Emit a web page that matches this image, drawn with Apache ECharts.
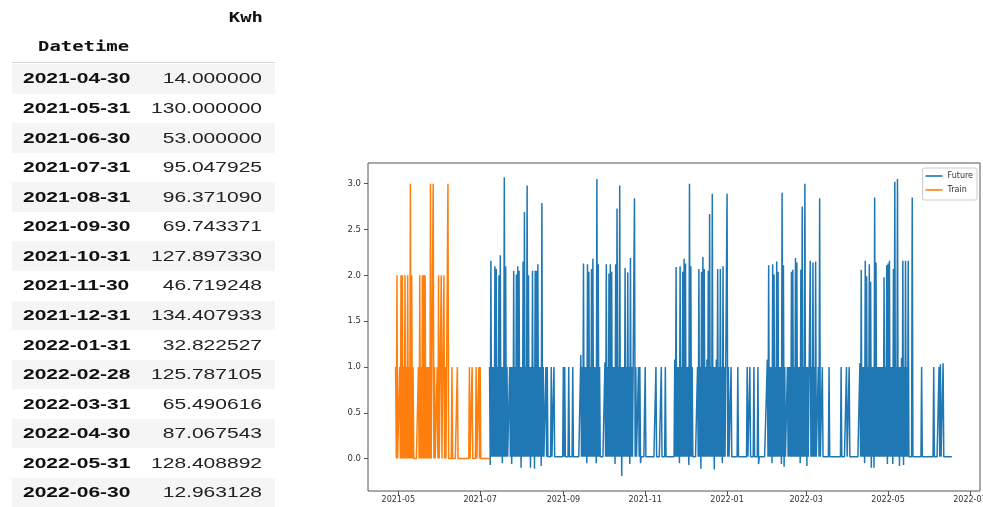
<!DOCTYPE html>
<html>
<head>
<meta charset="utf-8">
<script src="https://cdn.jsdelivr.net/npm/echarts@6/dist/echarts.min.js"></script>
<style>
  html, body { margin: 0; padding: 0; background: #fff; }
  #wrap { position: relative; width: 983px; height: 507px; overflow: hidden; background: #fff; }
  #chart { position: absolute; left: 0; top: 0; width: 983px; height: 507px; }
  #table { position: absolute; left: 0; top: 0; width: 290px; height: 507px; z-index: 2; }
  .row { position: absolute; left: 12px; width: 263px; }
  .shade { background: #f5f5f5; }
  .txt { position: absolute; white-space: nowrap; color: #111; }
  .date { font: bold 15px "Liberation Sans", Arial, sans-serif; transform: scaleX(1.4); transform-origin: left center; }
  .val { font: 15px "Liberation Sans", Arial, sans-serif; text-align: right; transform: scaleX(1.4); transform-origin: right center; color: #222; }
  .hdr { font: bold 13.5px "DejaVu Sans Mono", monospace; }
</style>
</head>
<body>
<div id="wrap">
  <div id="chart"></div>
  <div id="table"></div>
</div>
<script>
// ---------------- table data ----------------
const tableColumn = 'Kwh';
const tableIndexName = 'Datetime';
const tableDates = ['2021-04-30','2021-05-31','2021-06-30','2021-07-31','2021-08-31','2021-09-30',
  '2021-10-31','2021-11-30','2021-12-31','2022-01-31','2022-02-28','2022-03-31','2022-04-30',
  '2022-05-31','2022-06-30'];
const tableKwh = ['14.000000','130.000000','53.000000','95.047925','96.371090','69.743371',
  '127.897330','46.719248','134.407933','32.822527','125.787105','65.490616','87.067543',
  '128.408892','12.963128'];

// ---------------- chart data ----------------
// daily peak values (each day the line rises to its peak and falls back to the baseline / dip)
const trainStart = [2021, 4, 29];
const trainBase = 0;
const trainApr = [1, 2];
const trainMay = [0,1,2,2,1,2,1,2,1,3,2,1,0,0,0,1,2,1,2,2,2,1,1,1,3,0,3,1,0,1,2];
const trainJun = [0,2,0,2,1,0,3,0,0,1,0,0,0,1,0,0,0,0,0,0,0,0,1,0,1,0,0,1,0,1];
const trainJul = [1,0,0,0,0,0,0,0];

const futureStart = [2021, 7, 8];
const futureBase = 0.02;
const futJul = [1.0,2.16,1.0,1.0,2.10,2.07,1.0,2.0,2.22,1.0,1.0,3.07,2.10,1.0,0.02,1.0,1.0,1.0,2.05,1.0,2.01,2.10,2.05,1.0];
const futAug = [1.0,2.15,2.69,1.0,2.98,2.0,1.0,1.0,2.05,1.0,2.05,2.05,2.12,1.0,1.0,2.79,1.0,0.02,1.0,1.0,0.02,0.02,1.0,0.02,1.0,0.02,0.02,0.02,0.02,0.02,0.02];
const futSep = [1.0,1.0,0.02,0.02,1.0,0.02,0.02,1.0,0.02,0.02,0.02,0.02,0.02,1.13,1.0,2.13,1.0,1.0,2.12,2.04,1.0,2.07,2.18,1.0,1.0,3.05,2.12,1.0,0.02,0.02];
const futOct = [0.02,1.05,2.12,1.0,2.02,2.12,2.04,1.0,1.0,2.12,2.73,1.0,2.98,1.0,1.0,1.0,2.08,1.0,2.03,1.0,2.19,1.0,0.02,2.84,1.0,0.02,1.0,1.0,0.02,0.02,0.02];
const futNov = [1.0,0.02,0.02,0.02,0.02,0.02,0.02,0.02,1.0,0.02,0.02,0.02,1.0,0.02,0.02,1.0,0.02,0.02,0.02,0.02,0.02,0.02,1.08,2.09,1.0,1.0,2.10,1.0,2.04,2.18];
const futDec = [2.13,1.0,1.0,3.0,2.10,1.0,0.02,0.02,0.02,1.0,2.07,1.0,2.04,2.20,2.07,1.0,1.08,2.05,2.67,1.0,2.89,1.0,1.0,1.08,2.07,1.0,2.07,1.0,2.10,1.0,0.02];
const futJan = [2.89,1.0,0.02,1.0,0.02,0.02,0.02,0.02,1.0,0.02,0.02,0.02,0.02,0.02,0.02,1.0,0.02,1.0,0.02,0.02,1.0,0.02,0.02,1.0,0.02,0.02,0.02,0.02,0.02,0.02,1.08];
const futFeb = [2.11,1.0,1.0,2.12,2.01,1.0,2.15,2.04,1.0,1.0,2.90,2.11,1.0,0.02,1.0,1.0,1.0,2.04,2.06,1.0,2.19,2.14,1.0,1.0,2.06,2.75,1.0,3.0];
const futMar = [1.0,1.0,0.02,2.16,1.0,2.14,1.0,2.15,0.02,1.0,2.84,0.02,1.0,0.02,0.02,0.02,0.02,1.0,0.02,0.02,0.02,0.02,0.02,0.02,0.02,0.02,1.0,0.02,0.02,0.02,1.0];
const futApr = [0.02,1.0,0.02,0.02,0.02,0.02,0.02,0.02,0.02,1.04,2.06,1.0,1.0,2.16,1.99,1.0,2.12,1.93,1.0,1.0,2.85,2.14,1.0,1.0,1.0,1.0,1.0,1.98,1.0,2.11];
const futMay = [2.13,2.16,1.0,1.0,2.07,3.02,1.0,3.05,1.0,1.0,1.1,2.16,1.0,2.16,1.0,2.16,0.02,0.02,2.85,0.02,0.02,0.02,0.02,0.02,0.02,1.0,0.02,0.02,0.02,0.02,0.02];
const futJun = [0.02,0.02,0.02,1.0,0.02,0.02,0.02,1.0,1.03,0.02,1.04,0.02,0.02,0.02,0.02,0.02,0.02];
// days where the Future line dips below zero (date, lowest value)
const futureDips = [
  ['2021-07-08',-0.07],['2021-07-17',-0.05],['2021-07-24',-0.06],['2021-07-31',-0.10],
  ['2021-08-07',-0.10],['2021-08-10',-0.11],['2021-08-15',-0.08],
  ['2021-09-18',-0.05],['2021-09-25',-0.05],
  ['2021-10-09',-0.06],['2021-10-14',-0.19],['2021-10-20',-0.06],['2021-10-28',-0.05],
  ['2021-11-26',-0.05],
  ['2021-12-03',-0.07],['2021-12-12',-0.11],['2021-12-22',-0.12],['2021-12-28',-0.05],
  ['2022-01-24',-0.06],
  ['2022-02-03',-0.05],['2022-02-10',-0.06],['2022-02-12',-0.09],['2022-02-24',-0.05],
  ['2022-03-01',-0.08],
  ['2022-04-13',-0.05],['2022-04-18',-0.10],['2022-04-20',-0.10],['2022-04-30',-0.06],
  ['2022-05-04',-0.06],['2022-05-09',-0.08],['2022-05-12',-0.07]
];

const xTickLabels = ['2021-05','2021-07','2021-09','2021-11','2022-01','2022-03','2022-05','2022-07'];
const yTickLabels = [0.0, 0.5, 1.0, 1.5, 2.0, 2.5, 3.0];
const seriesNames = ['Future', 'Train'];

// ---------------- build table ----------------
(function buildTable() {
  const t = document.getElementById('table');
  function add(html) { t.insertAdjacentHTML('beforeend', html); }
  add('<div class="txt hdr" style="left:0;width:263px;top:8px;line-height:18px;text-align:right;transform:scaleX(1.4);transform-origin:right center;">' + tableColumn + '</div>');
  add('<div class="txt hdr" style="left:38px;top:37px;line-height:18px;transform:scaleX(1.4);transform-origin:left center;">' + tableIndexName + '</div>');
  add('<div style="position:absolute;left:12px;width:263px;top:62px;height:1px;background:#d6d6d6;"></div>');
  const top0 = 64, pitch = 29.57;
  tableDates.forEach(function (d, k) {
    const top = top0 + k * pitch;
    add('<div class="row' + (k % 2 === 0 ? ' shade' : '') + '" style="top:' + top + 'px;height:' + pitch + 'px;"></div>');
    add('<div class="txt date" style="left:23px;top:' + (top - 0.6) + 'px;line-height:' + pitch + 'px;">' + d + '</div>');
    add('<div class="txt val" style="left:0;width:262px;top:' + (top - 0.6) + 'px;line-height:' + pitch + 'px;">' + tableKwh[k] + '</div>');
  });
})();

// ---------------- build chart ----------------
function dayKey(d) {
  const m = d.getMonth() + 1, dd = d.getDate();
  return d.getFullYear() + '-' + (m < 10 ? '0' : '') + m + '-' + (dd < 10 ? '0' : '') + dd;
}
function dailySeries(start, chunks, base, dips) {
  const vals = [].concat.apply([], chunks);
  const dipMap = {};
  (dips || []).forEach(function (p) { dipMap[p[0]] = p[1]; });
  const out = [];
  vals.forEach(function (v, i) {
    const d0 = new Date(start[0], start[1] - 1, start[2] + i);
    const key = dayKey(d0);
    const low = (key in dipMap) ? dipMap[key] : base;
    out.push([d0.getTime(), v]);
    out.push([new Date(start[0], start[1] - 1, start[2] + i, 12).getTime(), low]);
  });
  return out;
}
const trainData = dailySeries(trainStart, [trainApr, trainMay, trainJun, trainJul], trainBase, []);
const futureData = dailySeries(futureStart, [futJul, futAug, futSep, futOct, futNov, futDec, futJan, futFeb, futMar, futApr, futMay, futJun], futureBase, futureDips);

const xTicks = xTickLabels.map(function (s) {
  const p = s.split('-');
  return new Date(+p[0], +p[1] - 1, 1).getTime();
});
function fmtMonth(v) {
  const d = new Date(v);
  const m = d.getMonth() + 1;
  return d.getFullYear() + '-' + (m < 10 ? '0' + m : '' + m);
}

const chart = echarts.init(document.getElementById('chart'), null, { renderer: 'canvas' });
chart.setOption({
  animation: false,
  backgroundColor: 'transparent',
  color: ['#1f77b4', '#ff7f0e'],
  grid: { left: 368, right: 3, top: 163, bottom: 16, containLabel: false, outerBoundsMode: 'none',
          show: true, borderColor: '#555', borderWidth: 1, backgroundColor: 'transparent' },
  legend: {
    orient: 'vertical', right: 6, top: 168,
    data: seriesNames.map(function (n) { return { name: n, icon: 'rect' }; }),
    itemWidth: 17, itemHeight: 1.6, itemGap: 6,
    padding: [4, 4, 6, 3],
    borderColor: '#cccccc', borderWidth: 1, borderRadius: 2,
    backgroundColor: 'rgba(255,255,255,0.8)',
    textStyle: { fontFamily: 'DejaVu Sans', fontSize: 8, color: '#333' }
  },
  xAxis: {
    type: 'value',
    position: 'bottom',
    min: new Date(2021, 3, 8, 10).getTime(),
    max: new Date(2022, 6, 8, 12).getTime(),
    axisLine: { show: false, onZero: false },
    splitLine: { show: false },
    axisTick: { show: true, length: 4, customValues: xTicks, lineStyle: { color: '#555', width: 1 } },
    axisLabel: {
      customValues: xTicks, margin: 5, fontSize: 8, color: '#333', fontFamily: 'DejaVu Sans',
      hideOverlap: false,
      formatter: fmtMonth
    }
  },
  yAxis: {
    type: 'value',
    position: 'left',
    min: -0.354, max: 3.226,
    axisLine: { show: false, onZero: false },
    splitLine: { show: false },
    axisTick: { show: true, length: 4, customValues: yTickLabels, lineStyle: { color: '#555', width: 1 } },
    axisLabel: {
      customValues: yTickLabels, margin: 7, fontSize: 8.5, color: '#333', fontFamily: 'DejaVu Sans',
      formatter: function (v) { return v.toFixed(1); }
    }
  },
  series: [
    { name: seriesNames[0], type: 'line', data: futureData, showSymbol: false, symbol: 'none',
      lineStyle: { width: 1.5, color: '#1f77b4' }, itemStyle: { color: '#1f77b4' }, z: 2 },
    { name: seriesNames[1], type: 'line', data: trainData, showSymbol: false, symbol: 'none',
      lineStyle: { width: 1.5, color: '#ff7f0e' }, itemStyle: { color: '#ff7f0e' }, z: 3 }
  ]
});
</script>
</body>
</html>
